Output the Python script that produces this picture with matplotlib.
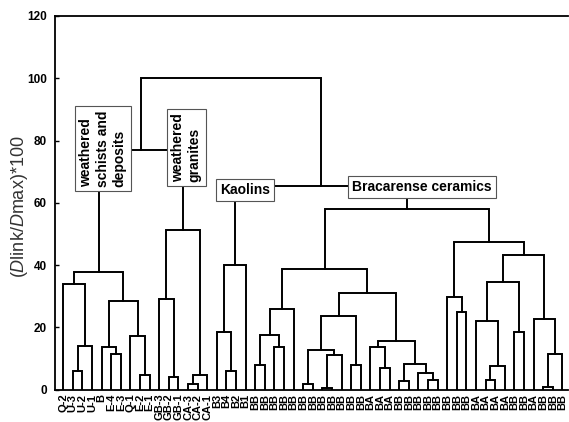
import numpy as np
import matplotlib
matplotlib.use("Agg")
import matplotlib.pyplot as plt

plt.rcParams['font.family'] = ['Liberation Sans', 'DejaVu Sans']
plt.rcParams['mathtext.fontset'] = 'custom'
plt.rcParams['mathtext.rm'] = 'Liberation Sans'
plt.rcParams['mathtext.it'] = 'Liberation Sans:italic'

# ── leaf labels in display order ─────────────────────────
leaf_labels = (['Q-2', 'U-3', 'U-2', 'U-1', 'B', 'E-4', 'E-3', 'Q-1', 'E-2', 'E-1',
                'GB-3', 'GB-2', 'GB-1', 'CA-3', 'CA-2', 'CA-1', 'B3', 'B4', 'B2', 'B1']
               + ['BB'] * 12 + ['BA'] * 3 + ['BB'] * 8 + ['BA'] * 4
               + ['BB'] * 2 + ['BA'] + ['BB'] * 3)
n_leaves = len(leaf_labels)          # 53

# ── linkage: ids < 53 are leaves, merge k gets id 53+k ──
merge_left = [1, 53, 0, 5, 4, 8, 7, 57, 55, 11, 10, 13, 64, 63, 61, 17, 16, 69,
              20, 22, 71, 73, 25, 27, 76, 75, 30, 78, 33, 32, 35, 38, 37, 83, 82, 80, 74,
              41, 40, 44, 92, 43, 47, 94, 50, 97, 49, 96, 91, 89, 70, 67]
merge_right = [2, 3, 54, 6, 56, 9, 58, 59, 60, 12, 62, 14, 15, 65, 66, 18, 68, 19,
               21, 23, 72, 24, 26, 28, 29, 77, 31, 79, 34, 81, 36, 39, 84, 85, 86, 87, 88,
               42, 90, 45, 46, 93, 48, 95, 51, 52, 98, 99, 100, 101, 102, 103]
merge_height = [5.9, 13.9, 33.9, 11.4, 13.6, 4.8, 17.3, 28.3, 37.8, 4.1, 29.1, 1.7, 4.8,
                51.3, 76.9, 5.9, 18.4, 40.1,
                8.0, 13.7, 17.6, 25.9, 1.8, 0.4, 11.2, 12.6, 8.0, 23.5, 7.0, 13.7, 2.7,
                3.2, 5.3, 8.3, 15.5, 31.0, 38.6,
                24.8, 29.7, 2.9, 7.5, 21.9, 18.6, 34.4, 0.7, 11.3, 22.8, 43.3, 47.3,
                58.1, 65.4, 100.0]

# group annotations (text, x in leaf units, y in axis units)
group_text = ['weathered\nschists and\ndeposits', 'weathered\ngranites', 'Kaolins',
              'Bracarense ceramics']
group_x = [4.1, 12.8, 18.9, 37.4]
group_y = [77.4, 77.7, 64.1, 65.1]
group_rot = [90, 90, 0, 0]

yticks = [0, 20, 40, 60, 80, 100, 120]

# ── figure ───────────────────────────────────────────────
W, H = 569, 422
fig = plt.figure(figsize=(W / 100, H / 100), dpi=100)
ax = fig.add_axes([55 / W, (H - 389.5) / H, 513 / W, 373.5 / H])

node_x = {i: float(i) for i in range(n_leaves)}
node_h = {i: 0.0 for i in range(n_leaves)}
for k, (a, b, h) in enumerate(zip(merge_left, merge_right, merge_height)):
    nid = n_leaves + k
    xa, xb = node_x[a], node_x[b]
    ax.plot([xa, xa, xb, xb], [node_h[a], h, h, node_h[b]],
            color='black', lw=1.4, solid_joinstyle='miter', zorder=2)
    node_x[nid] = (xa + xb) / 2
    node_h[nid] = h

for txt, x, y, r in zip(group_text, group_x, group_y, group_rot):
    ax.text(x, y, txt, rotation=r, ha='center', va='center', ma='left',
            fontsize=10, fontweight='bold', linespacing=1.25, zorder=5,
            bbox=dict(boxstyle='square,pad=0.3', fc='white', ec='#555555', lw=0.8))

ax.set_xlim(-0.86, -0.86 + 513 / 9.6)
ax.set_ylim(0, 120)
ax.set_xticks(np.arange(n_leaves))
ax.set_xticklabels(leaf_labels, rotation=90, fontsize=8, fontweight='bold')
ax.tick_params(axis='x', length=0, pad=3)
ax.set_yticks(yticks)
ax.set_yticklabels([str(t) for t in yticks], fontsize=8.5, fontweight='bold')
ax.tick_params(axis='y', direction='in', length=3, width=1, pad=6)
ax.spines['right'].set_visible(False)
for s in ['left', 'top', 'bottom']:
    ax.spines[s].set_linewidth(1.3)

fig.text(20 / W, 1 - 207 / H, r'($\mathit{D}$link/$\mathit{D}$max)*100',
         rotation=90, ha='center', va='center', fontsize=13, color='#333333')

fig.savefig('out.png', dpi=100)
